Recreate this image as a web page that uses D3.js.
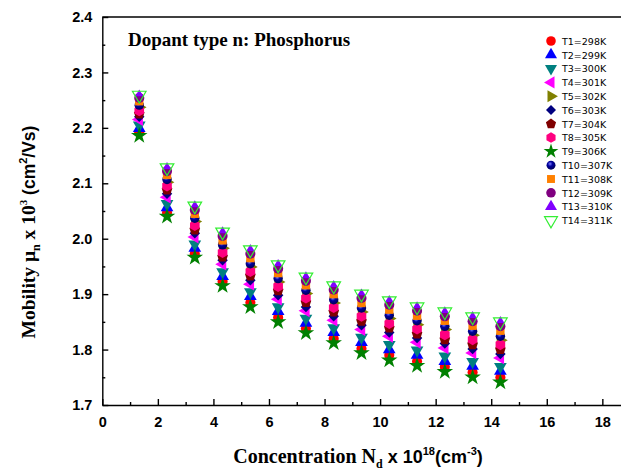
<!DOCTYPE html>
<html>
<head>
<meta charset="utf-8">
<script src="https://cdn.jsdelivr.net/npm/d3@7"></script>
<style>
  body { margin: 0; background: #fff; }
  svg { display: block; }
</style>
</head>
<body>
<svg id="chart"></svg>
<script>
// ---- data ----
const concentration = [1.33, 2.33, 3.33, 4.33, 5.33, 6.33, 7.33, 8.33, 9.33, 10.33, 11.33, 12.33, 13.33, 14.33];
const series_names = ["T1=298K", "T2=299K", "T3=300K", "T4=301K", "T5=302K", "T6=303K", "T7=304K",
                      "T8=305K", "T9=306K", "T10=307K", "T11=308K", "T12=309K", "T13=310K", "T14=311K"];
const mobility_T1  = [2.192, 2.047, 1.973, 1.923, 1.885, 1.858, 1.838, 1.820, 1.802, 1.790, 1.779, 1.769, 1.759, 1.750];
const mobility_T2  = [2.199, 2.056, 1.983, 1.932, 1.896, 1.869, 1.848, 1.831, 1.813, 1.800, 1.790, 1.779, 1.770, 1.761];
const mobility_T3  = [2.205, 2.063, 1.990, 1.940, 1.904, 1.877, 1.856, 1.839, 1.822, 1.809, 1.799, 1.788, 1.778, 1.769];
const mobility_T4  = [2.215, 2.075, 2.003, 1.954, 1.918, 1.891, 1.870, 1.853, 1.836, 1.824, 1.813, 1.803, 1.794, 1.785];
const mobility_T5  = [2.237, 2.102, 2.031, 1.983, 1.949, 1.922, 1.901, 1.884, 1.868, 1.856, 1.845, 1.836, 1.826, 1.817];
const mobility_T6  = [2.220, 2.081, 2.010, 1.961, 1.925, 1.898, 1.877, 1.860, 1.844, 1.831, 1.821, 1.811, 1.801, 1.792];
const mobility_T7  = [2.225, 2.088, 2.016, 1.967, 1.933, 1.906, 1.885, 1.868, 1.851, 1.839, 1.828, 1.818, 1.809, 1.800];
const mobility_T8  = [2.231, 2.095, 2.024, 1.975, 1.941, 1.914, 1.893, 1.876, 1.860, 1.847, 1.837, 1.827, 1.818, 1.809];
const mobility_T9  = [2.186, 2.040, 1.966, 1.915, 1.877, 1.850, 1.830, 1.812, 1.794, 1.781, 1.771, 1.760, 1.750, 1.741];
const mobility_T10 = [2.241, 2.107, 2.037, 1.989, 1.955, 1.928, 1.907, 1.890, 1.875, 1.862, 1.852, 1.842, 1.833, 1.824];
const mobility_T11 = [2.248, 2.115, 2.045, 1.997, 1.965, 1.938, 1.916, 1.900, 1.884, 1.872, 1.861, 1.852, 1.843, 1.834];
const mobility_T12 = [2.254, 2.122, 2.052, 2.005, 1.973, 1.946, 1.924, 1.908, 1.893, 1.881, 1.870, 1.860, 1.851, 1.842];
const mobility_T13 = [2.261, 2.130, 2.061, 2.014, 1.982, 1.955, 1.933, 1.917, 1.902, 1.890, 1.879, 1.870, 1.861, 1.852];
const mobility_T14 = [2.259, 2.128, 2.059, 2.012, 1.980, 1.953, 1.931, 1.915, 1.900, 1.888, 1.877, 1.868, 1.859, 1.850];
const all_series = [mobility_T1, mobility_T2, mobility_T3, mobility_T4, mobility_T5, mobility_T6, mobility_T7,
                    mobility_T8, mobility_T9, mobility_T10, mobility_T11, mobility_T12, mobility_T13, mobility_T14];
const x_major_ticks = [0, 2, 4, 6, 8, 10, 12, 14, 16, 18];
const y_major_ticks = [1.7, 1.8, 1.9, 2.0, 2.1, 2.2, 2.3, 2.4];

// ---- chart size ----
const width = 621, height = 471;
const margin = { top: 17, left: 102.3, bottom: 66 };
const plot_height = height - margin.top - margin.bottom;

const svg = d3.select("#chart").attr("width", width).attr("height", height);

// scales
const x = d3.scaleLinear().domain([0, 19]).range([margin.left, margin.left + 19 * 27.78]);
const y = d3.scaleLinear().domain([1.7, 2.4]).range([margin.top + plot_height, margin.top]);

// ---- custom marker shapes ----
function polygon_symbol(n) {
    return {
        draw(ctx, size) {
            const r = Math.sqrt(size / (n / 2 * Math.sin(2 * Math.PI / n)));
            for (let k = 0; k < n; k++) {
                const a = -Math.PI / 2 + k * 2 * Math.PI / n;
                if (k === 0) ctx.moveTo(r * Math.cos(a), r * Math.sin(a));
                else ctx.lineTo(r * Math.cos(a), r * Math.sin(a));
            }
            ctx.closePath();
        }
    };
}

// size = marker size in the plot, legend_size = marker size in the legend
const marker_styles = [
    { shape: d3.symbolCircle,   size: 80, legend_size: 72, rotate: 0,   fill: "#ff0000" },
    { shape: d3.symbolTriangle, size: 70, legend_size: 63, rotate: 0,   fill: "#0000ff" },
    { shape: d3.symbolTriangle, size: 70, legend_size: 63, rotate: 180, fill: "#008080" },
    { shape: d3.symbolTriangle, size: 70, legend_size: 63, rotate: -90, fill: "#ff00ff" },
    { shape: d3.symbolTriangle, size: 70, legend_size: 63, rotate: 90,  fill: "#808000" },
    { shape: d3.symbolSquare,   size: 55, legend_size: 50, rotate: 45,  fill: "#000080" },
    { shape: polygon_symbol(5), size: 75, legend_size: 68, rotate: 0,   fill: "#800000" },
    { shape: polygon_symbol(6), size: 80, legend_size: 72, rotate: 0,   fill: "#ff0080" },
    { shape: d3.symbolStar,     size: 85, legend_size: 68, rotate: 0,   fill: "#008000" },
    { shape: d3.symbolCircle,   size: 70, legend_size: 63, rotate: 0,   fill: "url(#ball)" },
    { shape: d3.symbolSquare,   size: 70, legend_size: 63, rotate: 0,   fill: "#ff8000" },
    { shape: d3.symbolCircle,   size: 80, legend_size: 72, rotate: 0,   fill: "#800080" },
    { shape: d3.symbolTriangle, size: 28, legend_size: 63, rotate: 0,   fill: "#8000ff" },
    { shape: d3.symbolTriangle, size: 80, legend_size: 72, rotate: 180, fill: "none", stroke: "#33ee33" }
];

// shiny ball gradient for T10
const grad = svg.append("defs").append("radialGradient")
    .attr("id", "ball").attr("cx", "40%").attr("cy", "35%").attr("r", "60%");
grad.append("stop").attr("offset", "0%").attr("stop-color", "#8080ff");
grad.append("stop").attr("offset", "45%").attr("stop-color", "#0000a0");
grad.append("stop").attr("offset", "100%").attr("stop-color", "#000060");

// ---- axes ----
const axis_font = "'Liberation Sans', Arial, sans-serif";

// bottom axis, ticks pointing inward
const x_axis = svg.append("g")
    .attr("transform", `translate(0,${y(1.7)})`)
    .call(d3.axisBottom(x).tickValues(x_major_ticks).tickSizeInner(-6).tickSizeOuter(0).tickPadding(12)
        .tickFormat(d3.format("d")));
svg.append("g")
    .attr("transform", `translate(0,${y(1.7)})`)
    .call(d3.axisBottom(x).tickValues(d3.range(1, 19, 2)).tickSizeInner(-3).tickSizeOuter(0).tickFormat(""))
    .select(".domain").remove();

// left axis
const y_axis = svg.append("g")
    .attr("transform", `translate(${margin.left},0)`)
    .call(d3.axisLeft(y).tickValues(y_major_ticks).tickSizeInner(-6).tickSizeOuter(0).tickPadding(10)
        .tickFormat(d3.format(".1f")));
svg.append("g")
    .attr("transform", `translate(${margin.left},0)`)
    .call(d3.axisLeft(y).tickValues([1.75, 1.85, 1.95, 2.05, 2.15, 2.25, 2.35]).tickSizeInner(-3).tickSizeOuter(0).tickFormat(""))
    .select(".domain").remove();

svg.selectAll(".domain, .tick line").attr("stroke", "#000").attr("stroke-width", 1.4);
[x_axis, y_axis].forEach(g => g.selectAll("text")
    .attr("font-family", axis_font).attr("font-weight", "bold").attr("font-size", 14.5).attr("fill", "#000"));

// top border (right border falls just outside the window)
svg.append("line")
    .attr("x1", x(0)).attr("x2", x(19))
    .attr("y1", y(2.4)).attr("y2", y(2.4))
    .attr("stroke", "#000").attr("stroke-width", 1.4);
svg.append("line")
    .attr("x1", x(19)).attr("x2", x(19))
    .attr("y1", y(2.4)).attr("y2", y(1.7))
    .attr("stroke", "#000").attr("stroke-width", 1.4);

// ---- data points ----
all_series.forEach((values, s) => {
    const st = marker_styles[s];
    const sym = d3.symbol().type(st.shape).size(st.size);
    svg.append("g")
        .selectAll("path")
        .data(values)
        .join("path")
        .attr("d", sym)
        .attr("transform", (d, i) => `translate(${x(concentration[i])},${y(d)}) rotate(${st.rotate})`)
        .attr("fill", st.fill)
        .attr("stroke", st.stroke || "none")
        .attr("stroke-width", 1.2);
});

// ---- legend ----
const legend = svg.append("g");
series_names.forEach((name, s) => {
    const st = marker_styles[s];
    const ly = 41 + s * 13.8;
    legend.append("path")
        .attr("d", d3.symbol().type(st.shape).size(st.legend_size)())
        .attr("transform", `translate(551,${ly}) rotate(${st.rotate})`)
        .attr("fill", st.fill)
        .attr("stroke", st.stroke || "none")
        .attr("stroke-width", 1.2);
    legend.append("text")
        .attr("x", 562).attr("y", ly + 3.8)
        .attr("font-family", "'DejaVu Sans', Verdana, sans-serif")
        .attr("font-size", 9.5)
        .text(name);
});

// ---- titles ----
const serif = "'Liberation Serif', 'Times New Roman', serif";
svg.append("text")
    .attr("x", 128).attr("y", 46)
    .attr("font-family", serif)
    .attr("font-weight", "bold").attr("font-size", 19)
    .text("Dopant type n: Phosphorus");

const x_title = svg.append("text")
    .attr("x", 358).attr("y", 463)
    .attr("text-anchor", "middle")
    .attr("font-weight", "bold").attr("font-size", 20)
    .attr("font-family", serif);
x_title.append("tspan").text("Concentration N");
x_title.append("tspan").attr("font-size", 12).attr("dy", 5).text("d");
x_title.append("tspan").attr("dy", -5).attr("font-family", axis_font).attr("font-size", 18).text(" x 10");
x_title.append("tspan").attr("font-family", axis_font).attr("font-size", 11).attr("dy", -8).text("18");
x_title.append("tspan").attr("font-family", axis_font).attr("font-size", 18).attr("dy", 8).text("(cm");
x_title.append("tspan").attr("font-family", axis_font).attr("font-size", 11).attr("dy", -8).text("-3");
x_title.append("tspan").attr("font-family", axis_font).attr("font-size", 18).attr("dy", 8).text(")");

const y_title = svg.append("text")
    .attr("transform", "translate(35,232) rotate(-90)")
    .attr("text-anchor", "middle")
    .attr("font-weight", "bold").attr("font-size", 19.5)
    .attr("font-family", serif);
y_title.append("tspan").text("Mobility μ");
y_title.append("tspan").attr("font-size", 12).attr("dy", 5).text("n");
y_title.append("tspan").attr("dy", -5).text(" x 10");
y_title.append("tspan").attr("font-size", 11).attr("dy", -8).text("3");
y_title.append("tspan").attr("font-family", axis_font).attr("font-size", 17.5).attr("dy", 8).text(" (cm");
y_title.append("tspan").attr("font-family", axis_font).attr("font-size", 11).attr("dy", -8).text("2");
y_title.append("tspan").attr("font-family", axis_font).attr("font-size", 17.5).attr("dy", 8).text("/Vs)");
</script>
</body>
</html>
